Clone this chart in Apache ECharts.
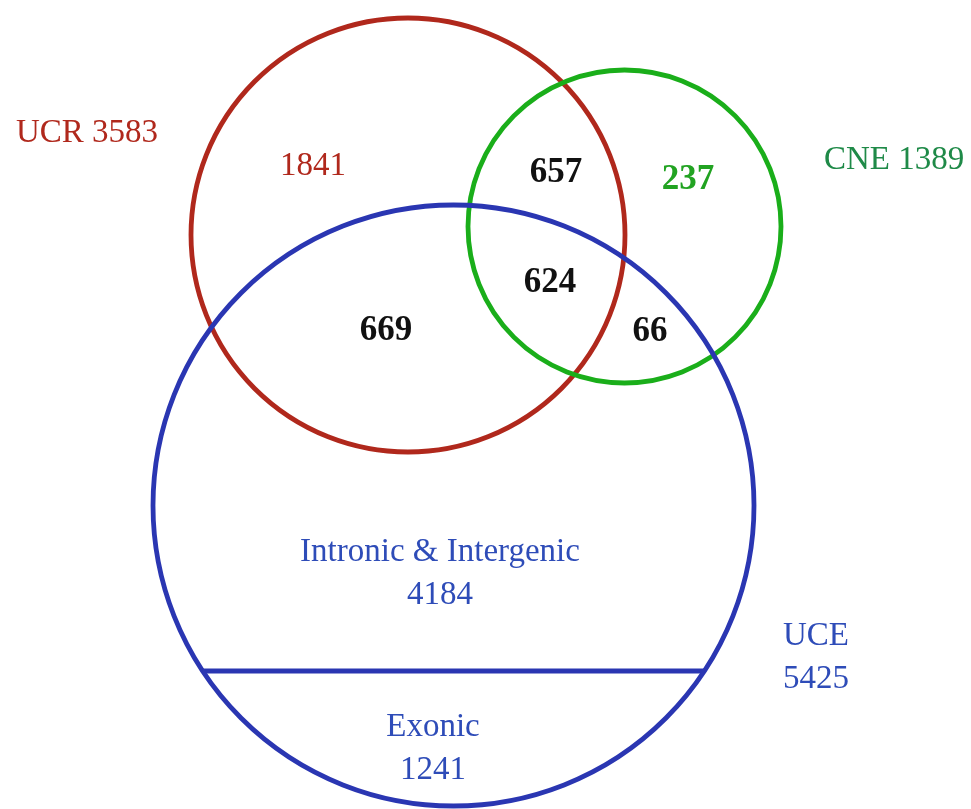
<!DOCTYPE html>
<html>
<head>
<meta charset="utf-8">
<script src="https://cdn.jsdelivr.net/npm/echarts@6/dist/echarts.min.js"></script>
<style>html,body{margin:0;padding:0;background:#fff}#c{width:971px;height:809px}</style>
</head>
<body>
<div id="c"></div>
<script>
// ---- data ----
const setNames = ['UCR', 'CNE', 'UCE'];
const setTotals = [3583, 1389, 5425];
const regionNames = ['UCR only', 'UCR∩CNE', 'CNE only', 'UCR∩CNE∩UCE', 'UCR∩UCE', 'CNE∩UCE'];
const regionCounts = [1841, 657, 237, 624, 669, 66];
const uceParts = ['Intronic & Intergenic', 'Exonic'];
const uceCounts = [4184, 1241];

// ---- layout (geometry and styles) ----
const W = 971, H = 809;
const colors = { UCR: '#b0281c', CNE: '#1aae1a', UCE: '#2a36b2' };
const labelColors = { UCR: '#b0281c', CNE: '#1f8a48', UCE: '#2e4cb8' };
const circles = [ // cx, cy, r in canvas units
  [408, 235, 217],
  [624.5, 226.5, 156.5],
  [453.5, 505.5, 300.5]
];
const dividerY = 671;
const TY = 3; // text baseline tweak
const setLabelPos = [[87, 130], [894, 157], [816, 655]];
const regionPos = [[313, 163], [556, 170], [688, 177], [550, 280], [386, 328], [650, 329]];
const regionColor = ['#b0281c', '#111', '#22a322', '#111', '#111', '#111'];
const regionBold = [false, true, true, true, true, true];
const uceLabelPos = [[440, 571], [433, 746]];

const FONT = '"Liberation Serif", "Times New Roman", serif';

const chart = echarts.init(document.getElementById('c'), null, { renderer: 'canvas' });

function circleItem(params, api) {
  const i = params.dataIndex;
  const c = api.coord([api.value(0), api.value(1)]);
  const r = api.size([api.value(2), 0])[0];
  const name = setNames[i];
  const children = [{
    type: 'circle',
    shape: { cx: c[0], cy: c[1], r: r },
    style: { fill: 'none', stroke: colors[name], lineWidth: 4.8 }
  }];
  if (name === 'UCE') {
    const dy = api.size([0, dividerY - api.value(1)])[1];
    const dx = Math.sqrt(r * r - dy * dy);
    children.push({
      type: 'line',
      shape: { x1: c[0] - dx, y1: c[1] + dy, x2: c[0] + dx, y2: c[1] + dy },
      style: { stroke: colors.UCE, lineWidth: 4.8 }
    });
  }
  return { type: 'group', children };
}

function textItem(getText, getColor, getWeight) {
  return function (params, api) {
    const i = params.dataIndex;
    const p = api.coord([api.value(0), api.value(1)]);
    const w = getWeight(i);
    return {
      type: 'text',
      x: p[0], y: p[1] + TY,
      style: {
        text: getText(i),
        fill: getColor(i),
        font: w + (w === 'bold' ? ' 35px ' : ' 33px ') + FONT,
        align: 'center',
        verticalAlign: 'middle',
        lineHeight: 43
      }
    };
  };
}

chart.setOption({
  animation: false,
  backgroundColor: '#fff',
  grid: { left: 0, right: 0, top: 0, bottom: 0 },
  xAxis: { type: 'value', min: 0, max: W, show: false },
  yAxis: { type: 'value', min: 0, max: H, inverse: true, show: false },
  series: [
    {
      type: 'custom', name: 'sets',
      data: circles.map((c, i) => ({ name: setNames[i], value: c })),
      renderItem: circleItem
    },
    {
      type: 'custom', name: 'setLabels',
      data: setLabelPos.map((p, i) => ({ name: setNames[i], value: [p[0], p[1], setTotals[i]] })),
      renderItem: textItem(
        i => i === 2 ? setNames[i] + '\n' + setTotals[i] : setNames[i] + ' ' + setTotals[i],
        i => labelColors[setNames[i]],
        () => 'normal')
    },
    {
      type: 'custom', name: 'regions',
      data: regionPos.map((p, i) => ({ name: regionNames[i], value: [p[0], p[1], regionCounts[i]] })),
      renderItem: textItem(
        i => String(regionCounts[i]),
        i => regionColor[i],
        i => regionBold[i] ? 'bold' : 'normal')
    },
    {
      type: 'custom', name: 'uceParts',
      data: uceLabelPos.map((p, i) => ({ name: uceParts[i], value: [p[0], p[1], uceCounts[i]] })),
      renderItem: textItem(
        i => uceParts[i] + '\n' + uceCounts[i],
        () => labelColors.UCE,
        () => 'normal')
    }
  ]
});
</script>
</body>
</html>
